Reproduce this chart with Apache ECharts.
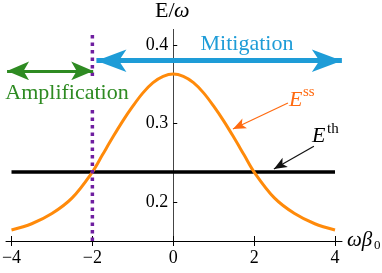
<!DOCTYPE html>
<html><head><meta charset="utf-8">
<script src="https://cdn.jsdelivr.net/npm/echarts@6/dist/echarts.min.js"></script>
<style>html,body{margin:0;padding:0;background:#fff}#c{width:382px;height:273px}</style>
</head><body><div id="c"></div>
<script>
// data
const xValues = [-4,-3.5,-3,-2.5,-2,-1.75,-1.5,-1.25,-1,-0.75,-0.5,-0.25,0,0.25,0.5,0.75,1,1.25,1.5,1.75,2,2.5,3,3.5,4];
const essValues = [0.164,0.172,0.185,0.205,0.238,0.260,0.282,0.303,0.322,0.339,0.352,0.360,0.363,0.360,0.352,0.339,0.322,0.303,0.282,0.260,0.238,0.205,0.185,0.172,0.164];
const ethValue = 0.238;
const ethRange = [-4, 4];
const xTicks = [-4,-2,0,2,4];
const yTicks = [0.2,0.3,0.4];
const thresholdX = -2;
const thresholdTop = 0.413;
const mitigationArrow = [[-1.9,0.38],[4.17,0.38]];
const amplificationArrow = [[-4.11,0.367],[-1.98,0.367]];
const essPointer = [[2.836,0.326],[1.476,0.293]];
const ethPointer = [[3.478,0.271],[2.489,0.242]];

const serif = "'Liberation Serif', 'Times New Roman', serif";
const essData = xValues.map((x,i)=>[x, essValues[i]]);
const ethData = ethRange.map(x=>[x, ethValue]);

const chart = echarts.init(document.getElementById('c'), null, {renderer:'canvas'});
const axisCommon = {
  type:'value', min:-4.136, max:4.173, position:'bottom',
  splitLine:{show:false}
};
const gridLeft = 6;
function font(size, italic){ return (italic?'italic ':'') + size + 'px ' + serif; }
chart.setOption({
  animation:false,
  grid:{left:gridLeft, right:40, top:29.4, bottom:32, containLabel:false, outerBoundsMode:'none'},
  xAxis:[
    Object.assign({}, axisCommon, {
      axisLine:{onZero:false, lineStyle:{color:'#000', width:1}},
      axisTick:{show:true, inside:false, length:5, lineStyle:{color:'#000'}, customValues:xTicks},
      axisLabel:{show:true, margin:8, color:'#000', fontFamily:serif, fontSize:18,
        customValues:xTicks, formatter:v=>String(v).replace('-','\u2212')}
    }),
    Object.assign({}, axisCommon, {
      axisLine:{show:false, onZero:false},
      axisTick:{show:true, inside:true, length:5, lineStyle:{color:'#000'}, customValues:xTicks},
      axisLabel:{show:false}
    })
  ],
  yAxis:{
    type:'value', min:0.15, max:0.42, position:'left',
    splitLine:{show:false},
    axisLine:{show:true, onZero:false, lineStyle:{color:'#444', width:1}},
    axisTick:{show:true, inside:true, length:4, lineStyle:{color:'#000'}, customValues:yTicks},
    axisLabel:{show:true, margin:5, color:'#000', fontFamily:serif, fontSize:18,
      customValues:yTicks, formatter:v=>v.toFixed(1)}
  },
  series:[
    {type:'line', name:'Eth', data:ethData, symbol:'none', lineStyle:{color:'#000', width:3.5}, z:2, silent:true},
    {type:'line', name:'Ess', data:essData, smooth:0.35, symbol:'none', lineStyle:{color:'#ff8a0a', width:3}, z:3, silent:true,
      markLine:{
        silent:true, animation:false, label:{show:false},
        data:[
          [{coord:mitigationArrow[0], symbol:'arrow', symbolSize:[17,30], lineStyle:{color:'#1e9cd7', width:5, type:'solid'}, itemStyle:{color:'#1e9cd7'}},
           {coord:mitigationArrow[1], symbol:'arrow', symbolSize:[17,30]}],
          [{coord:amplificationArrow[0], symbol:'arrow', symbolSize:[14,22], lineStyle:{color:'#2e8b22', width:3, type:'solid'}, itemStyle:{color:'#2e8b22'}},
           {coord:amplificationArrow[1], symbol:'arrow', symbolSize:[14,22]}],
          [{coord:essPointer[0], symbol:'none', lineStyle:{color:'#ff6a10', width:1.2, type:'solid'}, itemStyle:{color:'#ff6a10'}},
           {coord:essPointer[1], symbol:'arrow', symbolSize:[8,13]}],
          [{coord:ethPointer[0], symbol:'none', lineStyle:{color:'#111', width:1.2, type:'solid'}, itemStyle:{color:'#111'}},
           {coord:ethPointer[1], symbol:'arrow', symbolSize:[8,13]}]
        ]
      }
    },
    {type:'line', name:'threshold', data:[[thresholdX,0.15],[thresholdX,thresholdTop]], symbol:'none',
      lineStyle:{color:'#6f1ea0', width:3.5, type:[3.5,4]}, z:4, silent:true}
  ],
  graphic:[
    {type:'text', x:67, y:93, z:100, style:{text:'Amplification', fill:'#2e8b22', font:font(22), align:'center', verticalAlign:'middle', backgroundColor:'#fff', padding:[2,0,2,0]}},
    {type:'text', x:247, y:44, z:100, style:{text:'Mitigation', fill:'#1e9cd7', font:font(22), align:'center', verticalAlign:'middle'}},
    {type:'text', x:289, y:100, z:100, style:{text:'E', fill:'#ff6a10', font:font(22,true), align:'left', verticalAlign:'middle'}},
    {type:'text', x:303, y:92, z:100, style:{text:'ss', fill:'#ff6a10', font:font(15), align:'left', verticalAlign:'middle'}},
    {type:'text', x:312, y:136, z:100, style:{text:'E', fill:'#000', font:font(22,true), align:'left', verticalAlign:'middle'}},
    {type:'text', x:327, y:129, z:100, style:{text:'th', fill:'#000', font:font(15), align:'left', verticalAlign:'middle'}},
    {type:'text', x:155, y:11, z:100, style:{text:'E/', fill:'#000', font:font(22), align:'left', verticalAlign:'middle'}},
    {type:'text', x:174, y:11, z:100, style:{text:'\u03c9', fill:'#000', font:font(22,true), align:'left', verticalAlign:'middle'}},
    {type:'text', x:347, y:240, z:100, style:{text:'\u03c9\u03b2', fill:'#000', font:font(21,true), align:'left', verticalAlign:'middle'}},
    {type:'text', x:374, y:246, z:100, style:{text:'0', fill:'#000', font:font(13), align:'left', verticalAlign:'middle'}}
  ]
});
// move the y axis to x = 0
const zeroPx = chart.convertToPixel({xAxisIndex:0}, 0);
chart.setOption({yAxis:{offset: gridLeft - zeroPx}});
</script></body></html>
